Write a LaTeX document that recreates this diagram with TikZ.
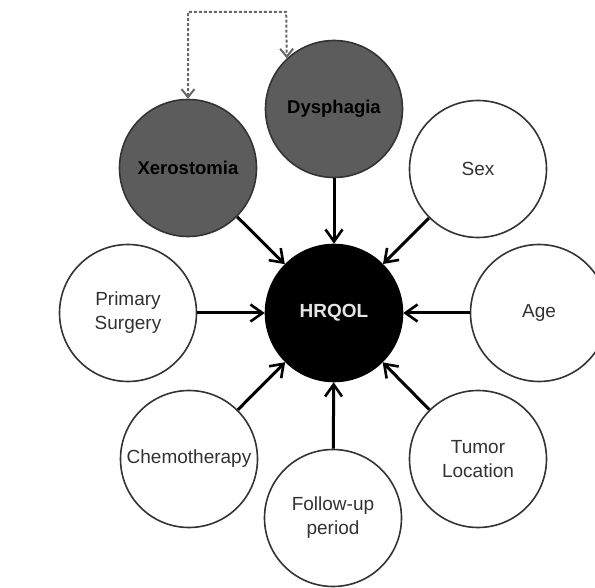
\documentclass[tikz,border=0pt]{standalone}
\usepackage{fontspec}
\setmainfont{Liberation Sans}
\usetikzlibrary{arrows.meta}
\definecolor{darkfill}{RGB}{92,92,92}
\definecolor{txtgray}{RGB}{50,50,50}
\begin{document}
\begin{tikzpicture}[x=1pt,y=-1pt,
  bubble/.style={circle,draw=black!80,line width=1.6pt,minimum size=137pt,inner sep=0pt,
    align=center,font=\fontsize{19}{24}\selectfont,text=txtgray,fill=white},
  darkbubble/.style={bubble,fill=darkfill,text=black,font=\fontsize{18.5}{24}\selectfont\bfseries},
  hub/.style={bubble,fill=black,draw=black,text=black!10,font=\fontsize{19}{24}\selectfont\bfseries},
  arr/.style={line width=3pt,-{Straight Barb[length=12pt,width=17pt,line width=2.6pt]}},
  dotarr/.style={line width=2pt,draw=black!60,dash pattern=on 3pt off 2pt,
    {Straight Barb[length=8pt,width=13pt,line width=2pt]}-{Straight Barb[length=8pt,width=13pt,line width=2pt]}}]
\useasboundingbox (0,0) rectangle (595,588);
\node[hub] (hr) at (334,313) {HRQOL};
\node[darkbubble] (dys) at (334,109) {Dysphagia};
\node[darkbubble] (xer) at (188,168) {Xerostomia};
\node[bubble] (sex) at (478,169) {Sex};
\node[bubble] (age) at (539,313) {Age};
\node[bubble] (pri) at (128,313) {Primary\\Surgery};
\node[bubble] (che) at (189,459) {Chemotherapy};
\node[bubble] (fol) at (333,518) {Follow-up\\period};
\node[bubble] (tum) at (478,459) {Tumor\\Location};
\foreach \n in {dys,xer,sex,age,pri,che,fol,tum}
  \draw[arr] (\n) -- (hr);
\coordinate (tl) at (188,12);
\coordinate (tr) at (286.2,12);
\draw[dotarr] (xer.north) -- (tl) -- (tr) -- (dys.133.8);
\end{tikzpicture}
\end{document}
